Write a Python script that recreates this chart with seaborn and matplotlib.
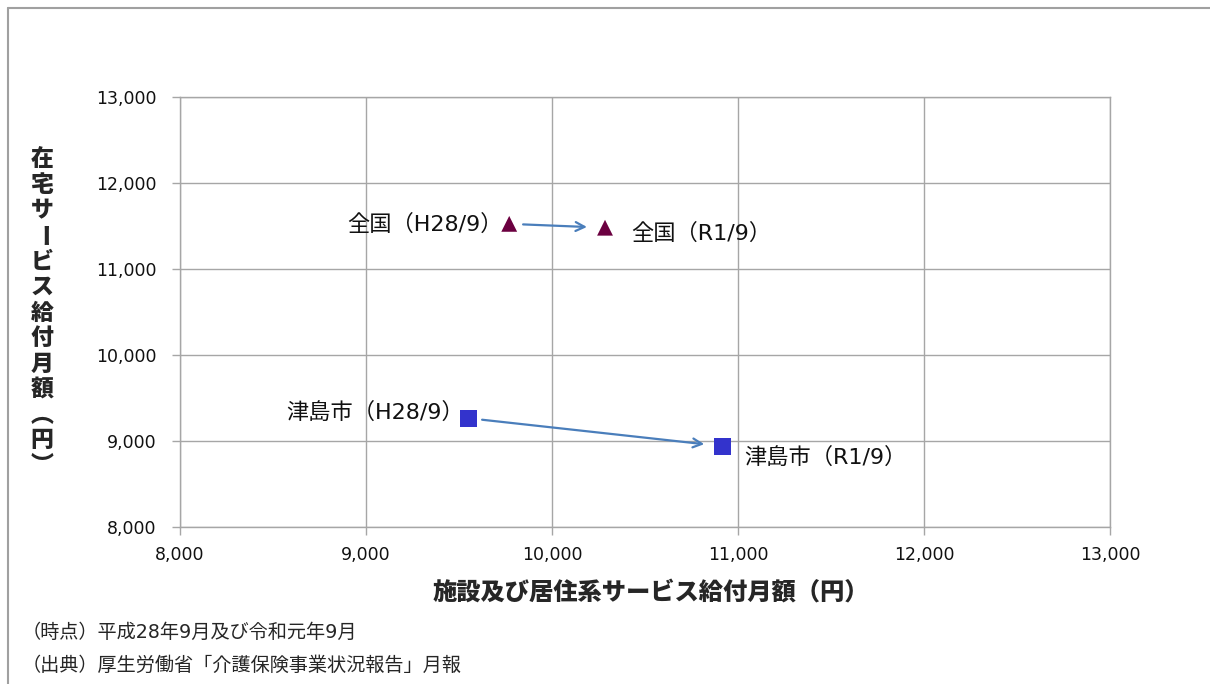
import seaborn as sns
import matplotlib.pyplot as plt
import pandas as pd
from matplotlib.ticker import FuncFormatter, MultipleLocator
from matplotlib.lines import Line2D

sns.set_style("whitegrid")
# Latin text in DejaVu (Verdana-like), Japanese falls back to Noto Sans CJK
plt.rcParams['font.family'] = ['DejaVu Sans', 'Noto Sans CJK JP']

# data
area = ['全国', '全国', '津島市', '津島市']
period = ['H28/9', 'R1/9', 'H28/9', 'R1/9']
facility_cost = [9770, 10285, 9550, 10915]   # 施設及び居住系サービス給付月額
home_cost = [11525, 11480, 9265, 8940]       # 在宅サービス給付月額

x_label = '施設及び居住系サービス給付月額（円）'
y_label = '在宅サービス給付月額（円）'
notes = ['（時点）平成28年9月及び令和元年9月',
         '（出典）厚生労働省「介護保険事業状況報告」月報']

GRID = '#a6a6a6'
ARROW = '#4a7ebb'
colors = {'全国': '#6b0040', '津島市': '#3333cc'}
markers = {'全国': '^', '津島市': 's'}
sizes = {'全国': 130, '津島市': 150}
# label offsets (points) by point order
offsets = [(-5, 0, 'right'), (19, -4, 'left'), (-3, 4, 'right'), (16, -8, 'left')]
# vertical-writing forms for the stacked y label
vertical = {'（': '︵', '）': '︶'}


def plot_figure():
    df = pd.DataFrame({'area': area, 'period': period,
                       'x': facility_cost, 'y': home_cost})

    fig, ax = plt.subplots(figsize=(12.1, 6.84), dpi=100)
    fig.subplots_adjust(left=180/1210, right=1110/1210,
                        bottom=1-527/684, top=1-97/684)

    sns.scatterplot(data=df, x='x', y='y', hue='area', style='area', size='area',
                    palette=colors, markers=markers, sizes=sizes,
                    linewidth=0, legend=False, ax=ax, zorder=3)

    # arrows H28 -> R1
    for a in df['area'].unique():
        sub = df[df['area'] == a]
        ax.annotate('', xy=(sub['x'].iloc[1], sub['y'].iloc[1]),
                    xytext=(sub['x'].iloc[0], sub['y'].iloc[0]),
                    arrowprops=dict(arrowstyle='->', color=ARROW, lw=1.6,
                                    shrinkA=10, shrinkB=13, mutation_scale=16),
                    zorder=2)

    for i, row in df.iterrows():
        dx, dy, ha = offsets[i]
        ax.annotate(f"{row['area']}（{row['period']}）", (row['x'], row['y']),
                    xytext=(dx, dy), textcoords='offset points',
                    ha=ha, va='center', fontsize=16, color='#111111')

    ax.set_xlim(8000, 13000)
    ax.set_ylim(8000, 13000)
    ax.xaxis.set_major_locator(MultipleLocator(1000))
    ax.yaxis.set_major_locator(MultipleLocator(1000))
    fmt = FuncFormatter(lambda v, _: f'{v:,.0f}')
    ax.xaxis.set_major_formatter(fmt)
    ax.yaxis.set_major_formatter(fmt)
    ax.tick_params(axis='both', bottom=True, left=True, direction='out',
                   length=6, width=1, color=GRID,
                   labelsize=12.5, labelcolor='#111111')
    ax.tick_params(axis='y', pad=11)
    ax.tick_params(axis='x', pad=8)
    ax.grid(True, color=GRID, lw=1)
    for sp in ax.spines.values():
        sp.set_color(GRID)
        sp.set_linewidth(1)
    ax.set_xlabel('')
    ax.set_ylabel('')

    fig.text(651/1210, 1-592/684, x_label, ha='center', va='center',
             fontsize=17.5, fontweight='black', family='Noto Sans CJK JP')

    # vertical y label, one character per line
    for i, ch in enumerate(y_label):
        fig.text(42/1210, 1-(160 + i*25.5)/684, vertical.get(ch, ch),
                 ha='center', va='center', fontsize=16.5, fontweight='black',
                 family='Noto Sans CJK JP', rotation=-90 if ch == 'ー' else 0)

    fig.text(22/1210, 1-632/684, notes[0], ha='left', va='center', fontsize=13.8)
    fig.text(22/1210, 1-665/684, notes[1], ha='left', va='center', fontsize=13.8)

    # outer frame (left and top edges)
    fig.add_artist(Line2D([8/1210, 8/1210], [0, 1-8/684], transform=fig.transFigure,
                          color='#a0a0a0', lw=1.5))
    fig.add_artist(Line2D([8/1210, 1], [1-8/684, 1-8/684], transform=fig.transFigure,
                          color='#a0a0a0', lw=1.5))

    fig.savefig('out.png', dpi=100)


plot_figure()
